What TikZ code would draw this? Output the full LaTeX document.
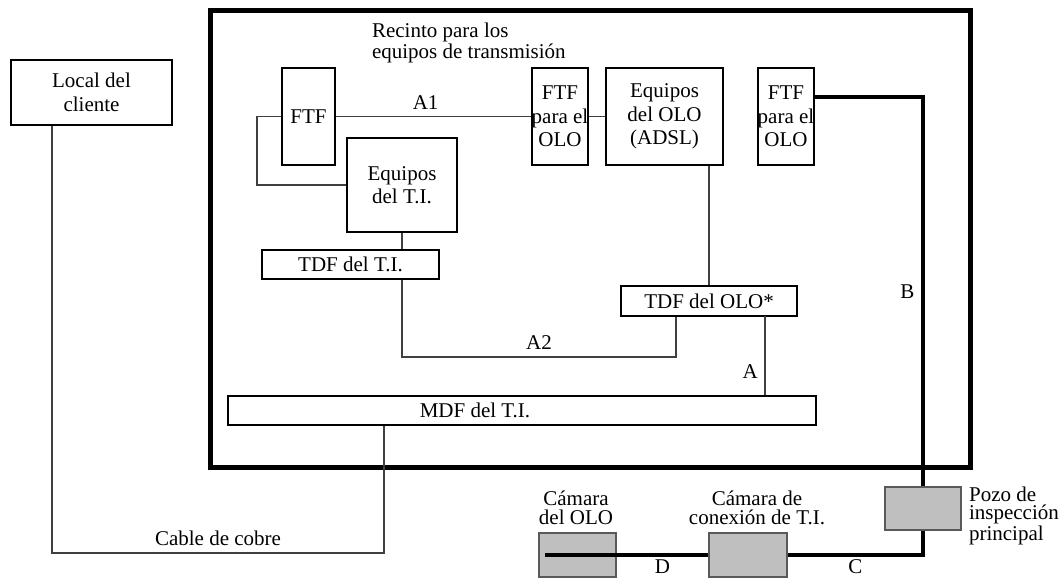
\documentclass[tikz,border=0pt]{standalone}
\usepackage{fontspec}
\setmainfont{Liberation Serif}
\usetikzlibrary{positioning,calc}

\begin{document}
\begin{tikzpicture}[
  x=0.5pt, y=-0.5pt,
  font=\fontsize{10.5}{11.75}\selectfont,
  box/.style={rectangle, draw, line width=1.1pt, inner sep=0pt, align=center},
  pit/.style={rectangle, draw=black!65, fill=black!25, line width=0.6pt, inner sep=0pt},
  wire/.style={draw=black!75, line width=0.6pt},
  cable/.style={line width=2pt},
  tight/.style={align=center, font=\fontsize{10.5}{9.25}\selectfont}
]
  \useasboundingbox (0,0) rectangle (1064,578);
  % recinto
  \node[draw, line width=2.5pt, inner sep=0pt, minimum width=380pt,
    minimum height=228.25pt] (recinto) at (590,238.75) {};
  \node[anchor=west, align=left] (rectxt) at (365,43)
    {Recinto para los\\[-1.25pt]equipos de transmisi\'on};
  %
  \node[box, minimum width=80.5pt, minimum height=32.5pt] (local) at (91.5,92.5) {Local del\\cliente};
  \node[box, minimum width=26.5pt, minimum height=48.5pt] (ftf) at (308.5,116.5) {FTF};
  \node[box, minimum width=55pt, minimum height=47pt] (eqti) at (402,185) {Equipos\\del T.I.};
  \node[box, minimum width=88.5pt, minimum height=14.5pt] (tdfti) at (350.5,264.5) {TDF del T.I.};
  \node[box, minimum width=27pt, minimum height=48.5pt] (ftfolo) at (560,116.5) {FTF\\para el\\OLO};
  \node[box, minimum width=58.5pt, minimum height=48.5pt] (eqolo) at (664.5,116.5) {Equipos\\del OLO\\(ADSL)};
  \node[box, minimum width=26pt, minimum height=48.5pt] (ftfolob) at (786,116.5) {FTF\\para el\\OLO};
  \node[box, minimum width=88pt, minimum height=15pt] (tdfolo) at (709,301) {TDF del OLO*};
  \node[box, minimum width=294pt, minimum height=14.5pt] (mdf) at (522,410.5) {};
  \node (mdftxt) at ($(mdf.center)+(-47,0)$) {MDF del T.I.};
  %
  \node[pit, minimum width=38pt, minimum height=21.5pt] (pozo) at (923,508.5) {};
  \node[pit, minimum width=38.5pt, minimum height=22pt] (camolo) at (577.5,555) {};
  \node[pit, minimum width=39pt, minimum height=22pt] (camcon) at (748,555) {};
  \node[tight] (camolotxt) at (576,508) {C\'amara\\del OLO};
  \node[tight] (camcontxt) at (757,508) {C\'amara de\\conexi\'on de T.I.};
  \node[tight, anchor=west, align=left] (pozotxt) at (962,516) {Pozo de\\inspecci\'on\\principal};
  % hilos
  \draw[wire] (ftf.east) -- node[above, pos=0.46] {A1} (ftfolo.west);
  \draw[wire] (ftfolo.east) -- (eqolo.west);
  \draw[wire] (ftf.west) -- ++(-24,0) |- (eqti.west);
  \draw[wire] (eqti.south) -- (eqti.south |- tdfti.north);
  \coordinate (a2) at (676,357);
  \draw[wire] (eqti.south |- tdfti.south) |- node[above, pos=0.75] {A2} (a2) -- (a2 |- tdfolo.south);
  \draw[wire] (tdfolo.north |- eqolo.south) -- (tdfolo.north);
  \coordinate (aa) at (765,316);
  \draw[wire] (aa) -- node[left, pos=0.7] {A} (aa |- mdf.north);
  \coordinate (cu) at (384,553);
  \coordinate (cl) at (52,553);
  \draw[wire] (cu |- mdf.south) -- (cu) -- node[above] {Cable de cobre} (cl) -- (cl |- local.south);
  % cable
  \draw[cable] (ftfolob.east |- 0,97) -| node[left, pos=0.75] {B} (pozo.north);
  \draw[cable] (pozo.south) |- node[below, inner sep=1.5pt, pos=0.75] {C} (camcon.east);
  \draw[cable] (camcon.west) -- node[below, inner sep=1.5pt] {D} (camolo.east) -- ($(camolo.west)+(7,0)$);
\end{tikzpicture}
\end{document}
